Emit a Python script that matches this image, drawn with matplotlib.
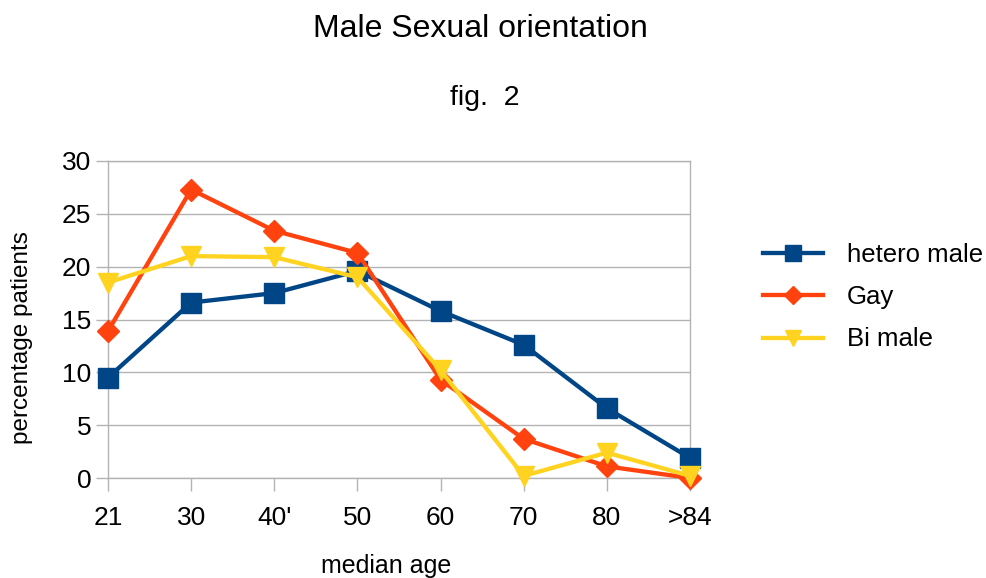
import matplotlib
matplotlib.use("Agg")
import matplotlib.pyplot as plt

categories = ["21", "30", "40'", "50", "60", "70", "80", ">84"]
hetero_male = [9.5, 16.6, 17.5, 19.6, 15.8, 12.6, 6.6, 1.9]
gay = [13.9, 27.3, 23.4, 21.3, 9.3, 3.7, 1.1, 0.0]
bi_male = [18.5, 21.0, 20.9, 19.0, 10.2, 0.2, 2.4, 0.2]

plt.rcParams['font.family'] = ['Liberation Sans', 'DejaVu Sans']

fig = plt.figure(figsize=(9.87, 5.78), dpi=100)
ax = fig.add_axes([108/987, 1-478/578, (690-108)/987, (478-161)/578])

x = list(range(len(categories)))
ax.plot(x, hetero_male, color='#004586', lw=3.1, marker='s', ms=14, label='hetero male', zorder=3, clip_on=False)
ax.plot(x, gay, color='#ff420e', lw=3.1, marker='D', ms=11, label='Gay', zorder=4, clip_on=False)
ax.plot(x, bi_male, color='#ffd320', lw=3.1, marker='v', ms=15, label='Bi male', zorder=5, clip_on=False)

ax.set_xlim(0, len(categories)-1)
ax.set_ylim(0, 30)
ax.set_yticks([0, 5, 10, 15, 20, 25, 30])
ax.set_xticks(x)
ax.set_xticklabels(categories)
ax.grid(axis='y', color='#b3b3b3', lw=1)
ax.set_axisbelow(True)
for s in ax.spines.values():
    s.set_color('#b3b3b3')
    s.set_linewidth(1)
ax.tick_params(axis='both', colors='#b3b3b3', labelcolor='black', labelsize=19, length=9, width=1)
ax.tick_params(axis='x', pad=11)
ax.tick_params(axis='y', pad=3)

fig.text(480/987, 1-37/578, 'Male Sexual orientation', ha='center', va='baseline', fontsize=23)
fig.text(485/987, 1-105/578, 'fig.  2', ha='center', va='baseline', fontsize=20.5)
fig.text(386/987, 1-566/578, 'median age', ha='center', va='center', fontsize=18)
fig.text(22/987, 1-338/578, 'percentage patients', ha='center', va='center', fontsize=17.5, rotation=90)

leg = ax.legend(loc='center left', bbox_to_anchor=(763/987, 1-297/578), bbox_transform=fig.transFigure,
                frameon=False, fontsize=18.5, handlelength=2.33, handletextpad=0.92, labelspacing=0.72,
                markerscale=0.8, borderpad=0, borderaxespad=0)

fig.savefig('out.png', dpi=100)
